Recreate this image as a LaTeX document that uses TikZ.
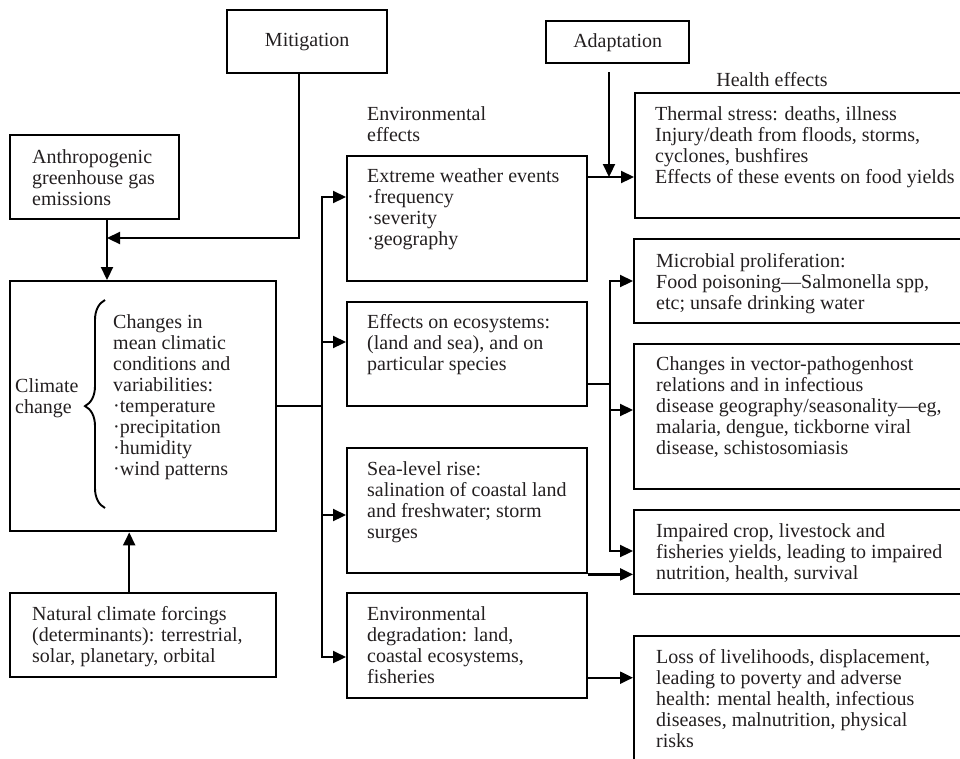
\documentclass[tikz,border=0pt]{standalone}
\usepackage{fontspec}
\setmainfont{Liberation Serif}
\usetikzlibrary{arrows.meta,decorations.pathreplacing,calc}
\definecolor{ink}{HTML}{231F20}
\newcommand{\fs}{\fontsize{20}{21}\selectfont}
\begin{document}
\begin{tikzpicture}[x=1pt,y=-1pt,
  box/.style={draw=black,line width=2.4pt,inner sep=0pt,anchor=north west,text=ink,font=\fs},
  txt/.style={anchor=north west,inner sep=0pt,align=left,text=ink,font=\fs,execute at begin node=\strut},
  conn/.style={draw=black,line width=2.2pt},
  arr/.style={conn,-{Triangle[length=13pt,width=12pt]}},
  darr/.style={conn,{Triangle[length=13pt,width=12pt]}-{Triangle[length=13pt,width=12pt]}}]
\useasboundingbox (0,0) rectangle (960,758);
\clip (0,0) rectangle (960,758);
% boxes
\node[box,minimum width=160pt,minimum height=63pt] (mit) at (226,9) {Mitigation};
\node[box,minimum width=143pt,minimum height=42pt] (adapt) at (545,20) {Adaptation};
\node[box,minimum width=169pt,minimum height=84pt] (anth) at (9,134) {};
\node[box,minimum width=266pt,minimum height=250pt] (clim) at (9,280) {};
\node[box,minimum width=266pt,minimum height=84pt] (nat) at (9,592) {};
\node[box,minimum width=240pt,minimum height=125pt] (ext) at (346,155) {};
\node[box,minimum width=240pt,minimum height=104pt] (eco) at (346,301) {};
\node[box,minimum width=240pt,minimum height=125pt] (sea) at (346,447) {};
\node[box,minimum width=240pt,minimum height=105pt] (deg) at (346,592) {};
\node[box,minimum width=341pt,minimum height=125pt] (h1) at (634,92) {};
\node[box,minimum width=342pt,minimum height=84pt] (mic) at (633,238) {};
\node[box,minimum width=342pt,minimum height=145pt] (vec) at (633,343) {};
\node[box,minimum width=342pt,minimum height=84pt] (imp) at (633,509) {};
\node[box,minimum width=342pt,minimum height=140pt] (loss) at (633,635) {};
% texts
\node[txt] (anthT) at (32,149.3) {Anthropogenic\\greenhouse gas\\emissions};
\node[txt] (climT) at (15,378.3) {Climate\\change};
\node[txt] (chgT) at (113,314.3) {Changes in\\mean climatic\\conditions and\\variabilities:\\·temperature\\·precipitation\\·humidity\\·wind patterns};
\node[txt] (natT) at (32,606.3) {Natural climate forcings\\(determinants): terrestrial,\\solar, planetary, orbital};
\node[txt] (envT) at (367,106.3) {Environmental\\effects};
\node[txt] (extT) at (367,168.3) {Extreme weather events\\·frequency\\·severity\\·geography};
\node[txt] (ecoT) at (367,314.3) {Effects on ecosystems:\\(land and sea), and on\\particular species};
\node[txt] (seaT) at (367,461.3) {Sea-level rise:\\salination of coastal land\\and freshwater; storm\\surges};
\node[txt] (degT) at (367,606.3) {Environmental\\degradation: land,\\coastal ecosystems,\\fisheries};
\node[anchor=center,inner sep=0pt,text=ink,font=\fs] (hT) at (772,80) {Health effects};
\node[txt] (h1T) at (655,106.3) {Thermal stress: deaths, illness\\Injury/death from floods, storms,\\cyclones, bushfires\\Effects of these events on food yields};
\node[txt] (micT) at (656,253.3) {Microbial proliferation:\\Food poisoning—Salmonella spp,\\etc; unsafe drinking water};
\node[txt] (vecT) at (656,356.3) {Changes in vector-pathogenhost\\relations and in infectious\\disease geography/seasonality—eg,\\malaria, dengue, tickborne viral\\disease, schistosomiasis};
\node[txt] (impT) at (656,523.3) {Impaired crop, livestock and\\fisheries yields, leading to impaired\\nutrition, health, survival};
\node[txt] (lossT) at (656,649.3) {Loss of livelihoods, displacement,\\leading to poverty and adverse\\health: mental health, infectious\\diseases, malnutrition, physical\\risks};
% brace
\draw[line width=1.9pt,decorate,decoration={brace,amplitude=20pt,aspect=0.49}] (105,508) -- (105,300);
% coordinates
\coordinate (mitend) at (107,238);
\coordinate (b1) at (322,197);
\coordinate (b2) at (322,342);
\coordinate (b3) at (322,515);
\coordinate (b4) at (322,657);
\coordinate (adtop) at (609,72);
\coordinate (adbot) at (609,177);
\coordinate (c1) at (610,281);
\coordinate (c2) at (610,410);
\coordinate (c3) at (610,551);
\coordinate (cj) at (610,384);
% connectors
\draw[arr] ($(mit.south)+(-8,0)$) |- (mitend);
\draw[arr] (anth.south -| mitend) -- (clim.north -| mitend);
\draw[arr] ($(nat.north)+(-14,0)$) -- ($(clim.south)+(-14,0)$);
\draw[conn] (clim.east) -- (clim.east -| b1);
\draw[darr] (b1 -| ext.west) -- (b1) -- (b4) -- (b4 -| deg.west);
\draw[arr] (b2) -- (b2 -| eco.west);
\draw[arr] (b3) -- (b3 -| sea.west);
\draw[arr] (ext.east |- adbot) -- (h1.west |- adbot);
\draw[arr] (adtop) -- (adbot);
\draw[conn] (eco.east |- cj) -- (cj);
\draw[darr] (c1 -| mic.west) -- (c1) -- (c3) -- (c3 -| imp.west);
\draw[arr] (c2) -- (c2 -| vec.west);
\draw[arr] (sea.south east) -- (sea.south east -| imp.west);
\draw[arr] ($(deg.east)+(0,32)$) -- ($(deg.east -| loss.west)+(0,32)$);
\end{tikzpicture}
\end{document}
